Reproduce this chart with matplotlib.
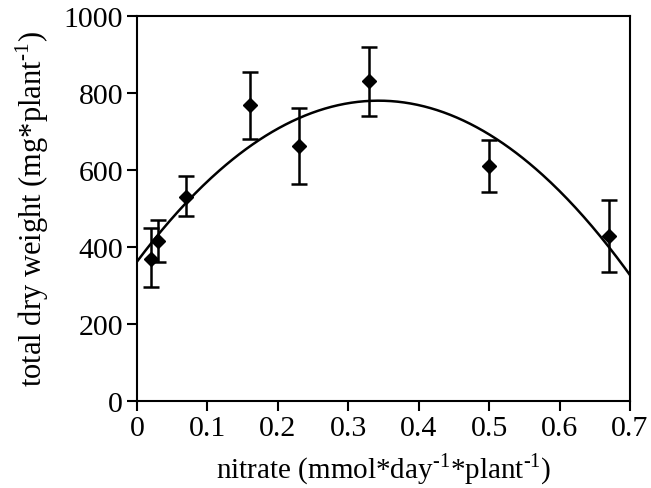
import numpy as np
import matplotlib
matplotlib.use("Agg")
import matplotlib.pyplot as plt

plt.rcParams["font.family"] = ["Liberation Serif", "DejaVu Serif"]
plt.rcParams["mathtext.fontset"] = "custom"
plt.rcParams["mathtext.rm"] = "Liberation Serif"

# Measured points (mean +/- error)
nitrate = [0.02, 0.03, 0.07, 0.16, 0.23, 0.33, 0.50, 0.67]
weight = [370, 415, 530, 768, 662, 831, 611, 429]
err_low = [75, 55, 50, 87, 98, 90, 69, 94]
err_high = [80, 55, 55, 87, 99, 88, 68, 92]

# quadratic fit: y = c0 + c1*x + c2*x^2
fit_coef = [362, 2438, -3554]

fig = plt.figure(figsize=(6.51, 4.89), dpi=100)
ax = fig.add_axes([0.2104, 0.1779, 0.7573, 0.7873])

xs = np.linspace(0, 0.7, 300)
ax.plot(xs, fit_coef[0] + fit_coef[1] * xs + fit_coef[2] * xs ** 2,
        color="black", lw=1.8, zorder=2)

ax.errorbar(nitrate, weight, yerr=[err_low, err_high], fmt="D", color="black",
            ms=7, elinewidth=1.8, capsize=5.5, capthick=1.8, zorder=3)

ax.set_xlim(0, 0.7)
ax.set_ylim(0, 1000)
ax.set_xticks([0, 0.1, 0.2, 0.3, 0.4, 0.5, 0.6, 0.7])
ax.set_xticklabels(["0", "0.1", "0.2", "0.3", "0.4", "0.5", "0.6", "0.7"])
ax.set_yticks([0, 200, 400, 600, 800, 1000])

for s in ax.spines.values():
    s.set_linewidth(1.5)
ax.tick_params(direction="out", length=7, width=1.5, labelsize=21.5, pad=3)

sup = r"$^{\mathregular{‐1}}$"
ax.set_xlabel("nitrate (mmol*day" + sup + "*plant" + sup + ")",
              fontsize=21, labelpad=7)
ax.set_ylabel("total dry weight (mg*plant" + sup + ")", fontsize=22,
              labelpad=9)

fig.savefig("out.png", dpi=100)
